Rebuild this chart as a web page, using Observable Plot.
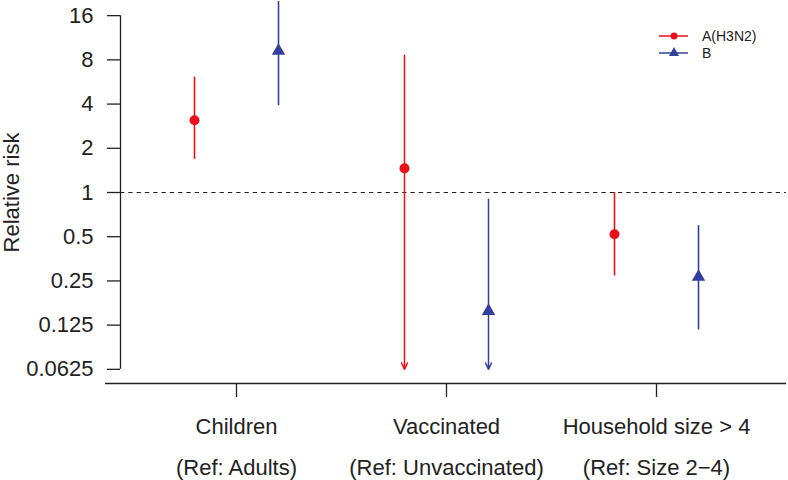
<!DOCTYPE html>
<html><head><meta charset="utf-8">
<script src="https://cdn.jsdelivr.net/npm/d3@7"></script>
<script src="https://cdn.jsdelivr.net/npm/@observablehq/plot@0.6"></script>
<style>
body{margin:0;background:#fff}
#wrap{position:relative;width:788px;height:480px;font-family:"Liberation Sans",Arial,Helvetica,sans-serif}
#legend{position:absolute;left:650px;top:24px}
</style>
</head><body><div id="wrap"></div>
<script>
// ---- data ----
const groups = ["Children", "Vaccinated", "Household size > 4"];
const refs = ["(Ref: Adults)", "(Ref: Unvaccinated)", "(Ref: Size 2\u22124)"];
const series = ["A(H3N2)", "B"];
const colors = ["#e8101a", "#33409b"];
const symbols = ["circle", "triangle"];
const estA = [3.1, 1.46, 0.52];
const lowA = [1.68, null, 0.27];   // null = truncated below axis (arrow)
const upA  = [6.1, 8.6, 1.0];
const estB = [9.2, 0.156, 0.266];
const lowB = [3.9, null, 0.116];
const upB  = [22, 0.9, 0.595];
const yTicks = [16, 8, 4, 2, 1, 0.5, 0.25, 0.125, 0.0625];
const yTickLabels = ["16", "8", "4", "2", "1", "0.5", "0.25", "0.125", "0.0625"];

// ---- build table ----
const dodge = [-0.2, 0.2];
const est = [estA, estB], low = [lowA, lowB], up = [upA, upB];
const rows = [];
groups.forEach((g, i) => series.forEach((s, j) => rows.push({
  group: g, series: s, x: i + 1 + dodge[j], est: est[j][i], lo: low[j][i], hi: up[j][i]
})));
const yMin = d3.min(yTicks), yMax = d3.max(yTicks);
const xDomain = [1 - 116 / 210, 3 + 130 / 210];
const yDomain = [2 ** -4.32, 2 ** 4.32];
const ink = "#222";

const chart = Plot.plot({
  width: 788, height: 480,
  marginLeft: 120, marginRight: 2, marginTop: 1, marginBottom: 97,
  style: {fontFamily: '"Liberation Sans", Arial, Helvetica, sans-serif', fontSize: "22px", color: ink, background: "white"},
  x: {type: "linear", domain: xDomain, axis: null},
  y: {type: "log", base: 2, domain: yDomain, axis: null},
  color: {domain: series, range: colors},
  symbol: {domain: series, range: symbols},
  marks: [
    Plot.ruleY([1], {stroke: ink, strokeDasharray: "4.3,4", strokeWidth: 1.2}),
    Plot.ruleX(rows.filter(d => d.lo != null), {x: "x", y1: "lo", y2: "hi", stroke: "series", strokeWidth: 1.6, clip: true}),
    Plot.arrow(rows.filter(d => d.lo == null), {x: "x", y1: "hi", y2: () => yMin, stroke: "series", strokeWidth: 1.5, headLength: 7, headAngle: 50}),
    Plot.dot(rows, {x: "x", y: "est", fill: "series", symbol: "series", r: 5, stroke: "none"}),
    // axes
    Plot.ruleX([xDomain[0]], {y1: yMax, y2: yMin, stroke: ink, strokeWidth: 1.3}),
    Plot.ruleY([yDomain[0]], {insetLeft: -15, stroke: ink, strokeWidth: 1.3}),
    Plot.axisY(yTicks, {tickFormat: d => yTickLabels[yTicks.indexOf(d)], tickSize: 13, tickPadding: 14, strokeWidth: 1.3,
      label: "Relative risk", labelAnchor: "center", labelOffset: 117, labelArrow: "none"}),
    Plot.axisX([1, 2, 3], {tickFormat: d => groups[d - 1], tickSize: 14, tickPadding: 21, strokeWidth: 1.3, label: null}),
    Plot.axisX([1, 2, 3], {tickFormat: d => refs[d - 1], tickSize: 0, tickPadding: 76, label: null})
  ]
});
const wrap = document.getElementById("wrap");
wrap.appendChild(chart);

// legend
const ns = "http://www.w3.org/2000/svg";
const lg = document.createElementNS(ns, "svg");
lg.setAttribute("id", "legend");
lg.setAttribute("width", 130); lg.setAttribute("height", 40);
series.forEach((s, j) => {
  const cy = 12 + j * 17;
  const line = document.createElementNS(ns, "line");
  line.setAttribute("x1", 9); line.setAttribute("x2", 38); line.setAttribute("y1", cy); line.setAttribute("y2", cy);
  line.setAttribute("stroke", colors[j]); line.setAttribute("stroke-width", 1.5);
  lg.appendChild(line);
  const sym = document.createElementNS(ns, "path");
  sym.setAttribute("d", d3.symbol(j === 0 ? d3.symbolCircle : d3.symbolTriangle, j === 0 ? 38 : 45)());
  sym.setAttribute("transform", `translate(24,${cy})`);
  sym.setAttribute("fill", colors[j]);
  lg.appendChild(sym);
  const t = document.createElementNS(ns, "text");
  t.setAttribute("x", 52); t.setAttribute("y", cy); t.setAttribute("dy", "0.35em");
  t.setAttribute("font-size", 14); t.setAttribute("fill", ink);
  t.setAttribute("font-family", '"Liberation Sans", Arial, sans-serif');
  t.textContent = s;
  lg.appendChild(t);
});
wrap.appendChild(lg);
</script></body></html>
